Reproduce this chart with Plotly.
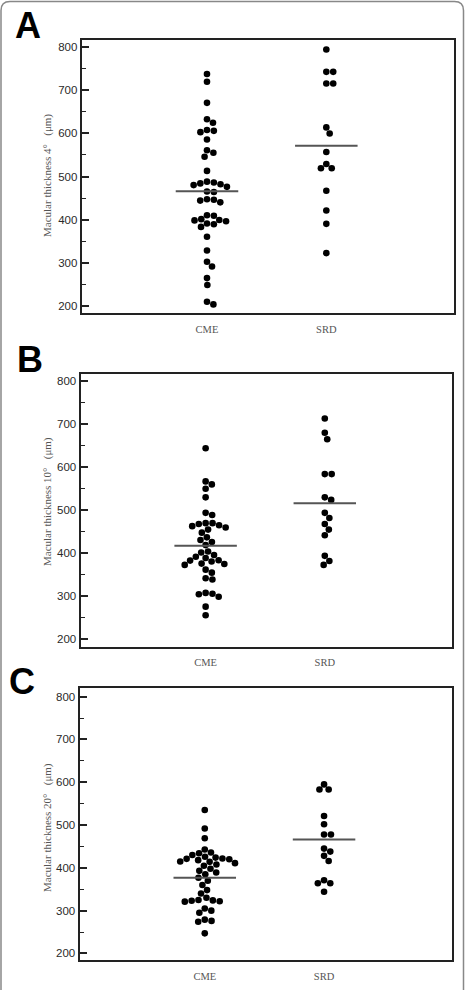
import math
import plotly.graph_objects as go

W, H = 473, 990

categories = ["CME", "SRD"]
panel_letters = ["A", "B", "C"]
y_titles = [
    "Macular thickness 4°\u00a0\u00a0\u00a0(μm)",
    "Macular thickness 10°\u00a0\u00a0\u00a0(μm)",
    "Macular thickness 20°\u00a0\u00a0\u00a0(μm)",
]
y_tick_values = [200, 300, 400, 500, 600, 700, 800]

# Panel A: 4 degrees
cme_4 = [738, 720, 671, 633, 625, 608, 606, 603, 586, 561, 555, 546, 513, 488,
         486, 484, 482, 480, 476, 465, 464, 447, 446, 444, 440, 410, 409, 401,
         399, 398, 396, 391, 389, 383, 360, 328, 302, 291, 264, 248, 209, 203]
srd_4 = [795, 743, 743, 716, 716, 614, 600, 557, 529, 519, 519, 467, 421, 390, 322]
mean_4 = [465.6, 571.5]

# Panel B: 10 degrees
cme_10 = [644, 567, 560, 550, 530, 494, 489, 470, 470, 468, 465, 463, 460, 455,
          448, 437, 431, 426, 419, 404, 402, 396, 392, 389, 384, 383, 381, 376,
          375, 373, 362, 355, 342, 339, 308, 306, 305, 299, 276, 256]
srd_10 = [713, 680, 665, 584, 584, 530, 524, 494, 482, 468, 455, 442, 394, 382, 373]
mean_10 = [417.5, 516.0]

# Panel C: 20 degrees
cme_20 = [535, 492, 469, 443, 436, 434, 430, 426, 424, 422, 421, 420, 418, 415,
          414, 411, 408, 405, 398, 393, 389, 385, 377, 370, 360, 348, 340, 330,
          325, 324, 323, 322, 321, 305, 300, 295, 279, 276, 274, 247]
srd_20 = [595, 583, 583, 521, 502, 478, 478, 445, 438, 428, 416, 371, 364, 364, 344]
mean_20 = [376.8, 466.0]

panels_data = [(cme_4, srd_4, mean_4), (cme_10, srd_10, mean_10), (cme_20, srd_20, mean_20)]

# pixel boxes of the three plot frames: (left, right, top, bottom)
boxes = [(81.7, 454.0, 40.0, 313.0), (80.5, 452.3, 374.0, 646.7), (79.5, 451.7, 688.3, 960.3)]
y_ranges = [[183, 817], [183, 816.5], [184, 819.5]]
x_range = [-0.05, 3.07]
letter_pos = [(28, 26), (30, 359), (22, 681)]
title_pos = [(47, 176), (47, 502), (47, 828)]

DOT = 6.6
DMIN = 6.9


def swarm(values, ppx, ppy):
    placed = []
    offsets = [0.0] * len(values)
    order = sorted(range(len(values)), key=lambda i: -values[i])
    for i in order:
        y = values[i] * ppy
        cands = [0.0]
        for xp, yp in placed:
            dy = abs(y - yp)
            if dy < DMIN:
                dx = math.sqrt(DMIN * DMIN - dy * dy)
                cands += [xp + dx, xp - dx]
        cands.sort(key=abs)
        x = 0.0
        for c in cands:
            if all((c - xp) ** 2 + (y - yp) ** 2 >= DMIN * DMIN - 1e-6 for xp, yp in placed):
                x = c
                break
        placed.append((x, y))
        offsets[i] = x / ppx
    return offsets


fig = go.Figure()
layout = dict(
    width=W, height=H, margin=dict(l=0, r=0, t=0, b=0),
    paper_bgcolor="white", plot_bgcolor="white", showlegend=False,
)
annotations = []
shapes = []

for p, (cme, srd, means) in enumerate(panels_data):
    left, right, top, bottom = boxes[p]
    sfx = "" if p == 0 else str(p + 1)
    xa, ya = "x" + sfx, "y" + sfx
    ppx = (right - left) / (x_range[1] - x_range[0])
    ppy = (bottom - top) / (y_ranges[p][1] - y_ranges[p][0])
    for ci, vals in enumerate([cme, srd]):
        offs = swarm(vals, ppx, ppy)
        fig.add_trace(go.Scatter(
            x=[ci + 1 + o for o in offs], y=vals, mode="markers",
            marker=dict(color="black", size=DOT, line=dict(width=0)),
            xaxis=xa, yaxis=ya, hoverinfo="skip"))
        fig.add_trace(go.Scatter(
            x=[ci + 1 - 0.262, ci + 1 + 0.262], y=[means[ci], means[ci]], mode="lines",
            line=dict(color="#555555", width=2), xaxis=xa, yaxis=ya, hoverinfo="skip"))

    layout["xaxis" + sfx] = dict(
        domain=[left / W, right / W], anchor=ya, range=x_range,
        tickmode="array", tickvals=[1, 2], ticktext=categories,
        ticks="outside", ticklen=5, tickcolor="rgba(0,0,0,0)",
        tickfont=dict(family="Liberation Serif", size=10.5, color="#555555"),
        showline=True, mirror=True, linecolor="#222222", linewidth=2,
        showgrid=False, zeroline=False, fixedrange=True)
    layout["yaxis" + sfx] = dict(
        domain=[1 - bottom / H, 1 - top / H], anchor=xa, range=y_ranges[p],
        tickmode="array", tickvals=y_tick_values,
        ticks="inside", ticklen=7, tickwidth=1.6, tickcolor="#222222",
        minor=dict(tickmode="array", tickvals=[250, 350, 450, 550, 650, 750],
                   ticks="inside", ticklen=4, tickwidth=1.2, tickcolor="#222222"),
        tickfont=dict(family="Liberation Sans", size=11.5, color="#2a2a2a"),
        showline=True, mirror=True, linecolor="#222222", linewidth=2,
        showgrid=False, zeroline=False, fixedrange=True)

    lx, ly = letter_pos[p]
    annotations.append(dict(
        text="<b>%s</b>" % panel_letters[p], x=lx / W, y=1 - ly / H,
        xref="paper", yref="paper", showarrow=False, xanchor="center", yanchor="middle",
        font=dict(family="Liberation Sans", size=36, color="black")))
    tx, ty = title_pos[p]
    annotations.append(dict(
        text=y_titles[p], x=tx / W, y=1 - ty / H, textangle=-90,
        xref="paper", yref="paper", showarrow=False, xanchor="center", yanchor="middle",
        font=dict(family="Liberation Serif", size=11, color="#555555")))

# outer rounded frame
x0, x1, yt, yb, r = 1.0, 463.5, 1.5, 1000.0, 9.0
def P(px, py):
    return "%.5f,%.5f" % (px / W, 1 - py / H)
path = ("M " + P(x0, yb) + " L " + P(x0, yt + r) + " Q " + P(x0, yt) + " " + P(x0 + r, yt) +
        " L " + P(x1 - r, yt) + " Q " + P(x1, yt) + " " + P(x1, yt + r) + " L " + P(x1, yb))
shapes.append(dict(type="path", path=path, xref="paper", yref="paper",
                   line=dict(color="#888888", width=1.5)))

layout["annotations"] = annotations
layout["shapes"] = shapes
fig.update_layout(**layout)
fig.write_html("out.html")
